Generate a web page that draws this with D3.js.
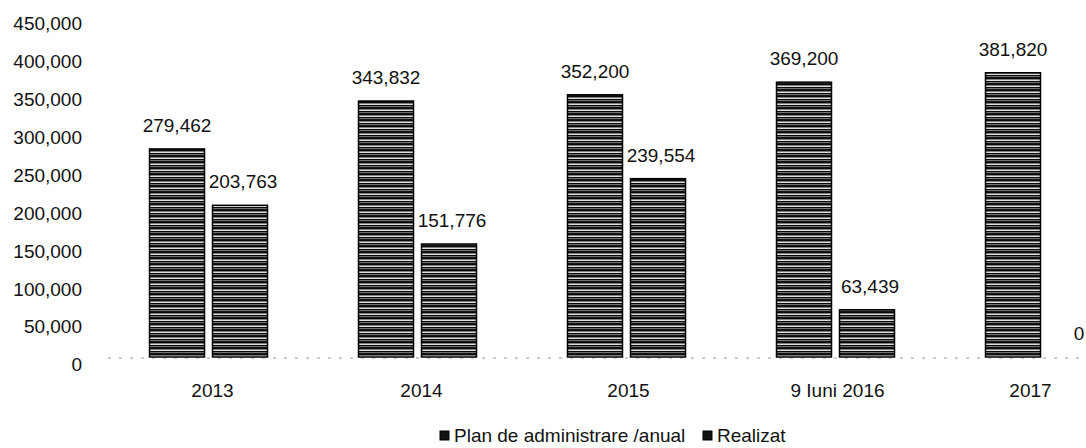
<!DOCTYPE html>
<html>
<head>
<meta charset="utf-8">
<script src="https://cdn.jsdelivr.net/npm/d3@7"></script>
<style>
  body { margin: 0; background: #fff; }
  svg text { font-family: "Liberation Sans", Arial, sans-serif; fill: #111; }
</style>
</head>
<body>
<div id="chart"></div>
<script>
// values
const categories = ['2013', '2014', '2015', '9 Iuni 2016', '2017'];
const planValues = [279462, 343832, 352200, 369200, 381820];
const realizatValues = [203763, 151776, 239554, 63439, 0];
const seriesNames = ['Plan de administrare /anual', 'Realizat'];
const yTicks = [0, 50000, 100000, 150000, 200000, 250000, 300000, 350000, 400000, 450000];

const width = 1086, height = 448;
const fmt = d3.format(',');
const fontSize = 19;

const svg = d3.select('#chart').append('svg')
	.attr('width', width)
	.attr('height', height);

// horizontal stripes like the printed hatch
const defs = svg.append('defs');
const pat = defs.append('pattern')
	.attr('id', 'stripes')
	.attr('patternUnits', 'userSpaceOnUse')
	.attr('width', 10)
	.attr('height', 6);
pat.append('rect').attr('width', 10).attr('height', 6).attr('fill', '#0a0a0a');
pat.append('rect').attr('y', 1.5).attr('width', 10).attr('height', 1.4).attr('fill', '#f4f4f4');
pat.append('rect').attr('y', 4.2).attr('width', 10).attr('height', 0.9).attr('fill', '#8a8a8a');

const y = d3.scaleLinear()
	.domain([0, 450000])
	.range([357, 22]);

const x0 = d3.scaleBand()
	.domain(categories)
	.range([104, 1149]);

const barW = 55, gap = 8;
const groupW = barW * 2 + gap;
function barX(i, s) {
	return x0(categories[i]) + (x0.bandwidth() - groupW) / 2 + s * (barW + gap);
}

// y axis labels, no line (scan drifts a few px toward the bottom)
const yAxis = d3.axisLeft(y).tickValues(yTicks).tickFormat(fmt).tickSize(0).tickPadding(0);
const gy = svg.append('g').attr('transform', 'translate(82,0)').call(yAxis);
gy.select('.domain').remove();
gy.selectAll('text')
	.attr('font-size', fontSize)
	.attr('dy', '0.36em')
	.attr('transform', function (d) { return 'translate(0,' + (1 + (1 - d / 450000) * 6) + ')'; })
	.style('font-family', null);

// faint dotted base line
svg.append('line')
	.attr('x1', 108).attr('x2', width)
	.attr('y1', y(0) + 1).attr('y2', y(0) + 1)
	.attr('stroke', '#9a9a9a')
	.attr('stroke-width', 1)
	.attr('stroke-dasharray', '3,8');

const series = [planValues, realizatValues];
series.forEach(function (vals, s) {
	const g = svg.append('g');
	g.selectAll('rect')
		.data(vals)
		.join('rect')
		.attr('x', function (d, i) { return barX(i, s); })
		.attr('y', function (d) { return y(d); })
		.attr('width', barW)
		.attr('height', function (d) { return y(0) - y(d); })
		.attr('fill', 'url(#stripes)')
		.attr('stroke', '#000')
		.attr('stroke-width', function (d) { return d > 0 ? 1.5 : 0; });

	g.selectAll('text')
		.data(vals)
		.join('text')
		.attr('x', function (d, i) { return barX(i, s) + barW / 2 + (s === 1 ? 3 : 0); })
		.attr('y', function (d) { return y(d) - 17; })
		.attr('text-anchor', 'middle')
		.attr('font-size', fontSize)
		.text(function (d) { return fmt(d); });
});

// category labels
const xAxis = d3.axisBottom(x0).tickSize(0).tickPadding(0);
const gx = svg.append('g').attr('transform', 'translate(0,397)').call(xAxis);
gx.select('.domain').remove();
gx.selectAll('text')
	.attr('font-size', fontSize)
	.attr('dy', 0)
	.attr('transform', function (d, i) { return 'translate(' + [4, 4, 2, 2, -14][i] + ',0)'; })
	.style('font-family', null);

// legend
const legend = svg.append('g').attr('transform', 'translate(0,436)');
const legendX = [440, 703];
seriesNames.forEach(function (name, i) {
	legend.append('rect')
		.attr('x', legendX[i])
		.attr('y', -5)
		.attr('width', 9)
		.attr('height', 9)
		.attr('fill', '#111')
		.attr('stroke', '#000');
	legend.append('text')
		.attr('x', legendX[i] + 14)
		.attr('y', 6)
		.attr('font-size', fontSize)
		.text(name);
});
</script>
</body>
</html>
